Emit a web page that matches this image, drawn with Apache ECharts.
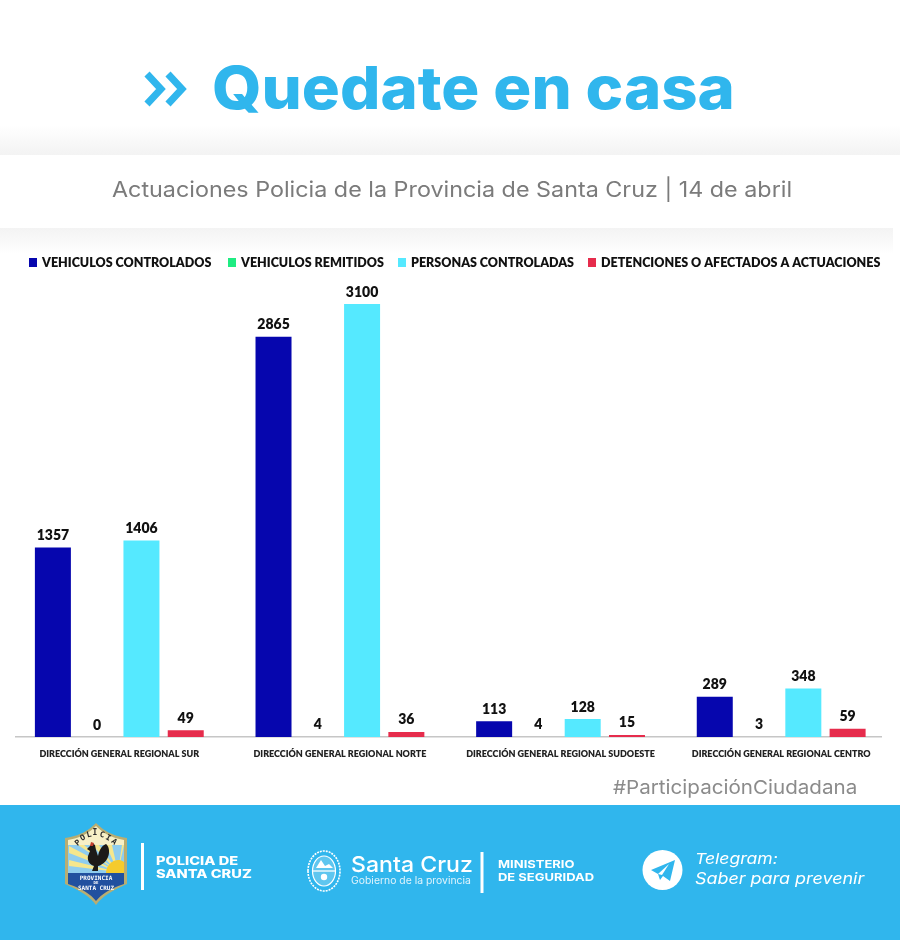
<!DOCTYPE html>
<html lang="es">
<head>
<meta charset="utf-8">
<title>Actuaciones Policia de la Provincia de Santa Cruz</title>
<style>
html,body{margin:0;padding:0;background:#fff}
#chart{width:900px;height:940px}
</style>
<script src="https://cdn.jsdelivr.net/npm/echarts@6/dist/echarts.min.js"></script>
</head>
<body>
<div id="chart"></div>
<script>
// Operational figures per regional directorate, 14 de abril
const regiones = ['DIRECCIÓN GENERAL REGIONAL SUR', 'DIRECCIÓN GENERAL REGIONAL NORTE', 'DIRECCIÓN GENERAL REGIONAL SUDOESTE', 'DIRECCIÓN GENERAL REGIONAL CENTRO'];
const vehiculosControlados = [1357, 2865, 113, 289];
const vehiculosRemitidos = [0, 4, 4, 3];
const personasControladas = [1406, 3100, 128, 348];
const detenciones = [49, 36, 15, 59];

const nombresSeries = ['VEHICULOS CONTROLADOS', 'VEHICULOS REMITIDOS', 'PERSONAS CONTROLADAS', 'DETENCIONES O AFECTADOS A ACTUACIONES'];
const coloresSeries = ['#0606ae', '#1fec82', '#55e9ff', '#e62c4c'];
const leyendaLeft = [24, 223, 393, 583];

const AZUL = '#30b6ed';
const GRID_TOP = 304, GRID_H = 433;
const BASE = GRID_TOP + GRID_H;

const el = document.getElementById('chart');
const chart = echarts.init(el, null, {renderer: 'canvas'});

// Text anchored at its left/centre, optionally stretched horizontally
function txt(text, x, y, font, fill, align, sx) {
  return {type: 'text', z: 20, x, y, scaleX: sx || 1,
    style: {text, x: 0, y: 0, font, fill, textAlign: align || 'left', textVerticalAlign: 'middle'}};
}
// Flattens an M/L/C/Z outline into polygon vertices
function trazo(d) {
  const t = d.match(/[MLCZ]|-?[\d.]+/g);
  const pts = [];
  let i = 0, cmd = '';
  while (i < t.length) {
    if (/[MLCZ]/.test(t[i])) { cmd = t[i++]; if (cmd === 'Z') continue; }
    if (cmd === 'C') {
      const [x0, y0] = pts[pts.length - 1];
      const [a, b, c, e, f, g] = t.slice(i, i + 6).map(Number);
      i += 6;
      for (let k = 1; k <= 10; k++) {
        const u = k / 10, v = 1 - u;
        pts.push([v*v*v*x0 + 3*v*v*u*a + 3*v*u*u*c + u*u*u*f, v*v*v*y0 + 3*v*v*u*b + 3*v*u*u*e + u*u*u*g]);
      }
    } else {
      pts.push([Number(t[i]), Number(t[i + 1])]);
      i += 2;
    }
  }
  return pts;
}
function poly(points, fill, z) {
  return {type: 'polygon', z: z || 12, shape: {points}, style: {fill}};
}
function pth(d, fill) {
  return poly(trazo(d), fill);
}
function vGrad(from, to) {
  return {type: 'linear', x: 0, y: 0, x2: 0, y2: 1, colorStops: [{offset: 0, color: from}, {offset: 1, color: to}]};
}

// Page bands behind the chart
const bandas = [
  {type: 'rect', z: -2, shape: {x: 0, y: 125, width: 900, height: 30}, style: {fill: vGrad('#ffffff', '#f3f3f3')}},
  {type: 'rect', z: -2, shape: {x: 0, y: 228, width: 893, height: 26}, style: {fill: vGrad('#f3f3f3', '#ffffff')}},
  {type: 'rect', z: 10, shape: {x: 0, y: 805, width: 900, height: 135}, style: {fill: AZUL}}
];

// Heading chevrons
const flechas = [146, 167].map(x => ({
  type: 'polyline', z: 20,
  shape: {points: [[x + 1, 74], [x + 15, 89], [x + 1, 104]]},
  style: {stroke: AZUL, lineWidth: 7, fill: 'none', lineJoin: 'miter'}
}));

const encabezado = [
  txt('Quedate en casa', 212, 91, '800 59px Inter', AZUL, 'left', 1.075),
  txt('Actuaciones Policia de la Provincia de Santa Cruz | 14 de abril', 112, 191, '400 21.5px Inter', '#7b7b7b', 'left', 1.085),
  txt('#ParticipaciónCiudadana', 613, 788, '400 19px Inter', '#8b8b8b', 'left', 1.084)
];

// Police crest
const rayos = [
  [[69, 846], [69, 853]], [[69, 860], [69, 866]], [[78, 845], [84, 845]],
  [[92, 845], [99, 845]], [[106, 845], [112, 845]], [[122, 845], [124, 845]]
];
const escudo = [
  pth('M96 823 C103 830 112 836 127 838 L127 884 C118 888 104 894 96 905 C88 894 74 888 65 884 L65 838 C80 836 89 830 96 823 Z', '#b8ad72'),
  pth('M96 826 C103 833 112 838 124 840 L124 873 L68 873 L68 840 C80 838 89 833 96 826 Z', '#f7f0c6'),
  poly([[68, 845], [124, 845], [124, 873], [68, 873]], '#8fcdee'),
  ...rayos.map(r => poly([[118, 872], r[0], r[1]], '#f6e78c')),
  pth('M106 873 C106 866 112 860 118 860 C121 860 123 861 124 862 L124 873 Z', '#f5cb2d'),
  // Rooster silhouette with comb
  pth('M87 849 L90 846 L92 843 L95 845 L96 850 L98 856 C99 851 101 846 106 844 C109 846 110 852 108 857 C106 862 102 865 98 866 L98 871 L92 871 L94 866 C90 865 87 861 88 856 L90 851 Z', '#1c1a18'),
  poly([[90, 846], [91, 842], [94, 843], [93, 846]], '#c2402c', 13),
  pth('M68 873 L124 873 L124 884 C115 887 103 892 96 901 C89 892 77 887 68 884 Z', '#21509f'),
  txt('PROVINCIA', 96, 878, 'bold 6px "DejaVu Sans Mono"', '#ffffff', 'center'),
  txt('DE', 96, 883, 'bold 4px "DejaVu Sans Mono"', '#ffffff', 'center'),
  txt('SANTA CRUZ', 96, 888, 'bold 6px "DejaVu Sans Mono"', '#ffffff', 'center'),
  ...[['P', 78, 843, -40], ['O', 83, 838, -28], ['L', 89, 835, -14], ['I', 95, 833, 0], ['C', 102, 835, 14], ['I', 108, 838, 28], ['A', 114, 842, 40]]
    .map(([c, x, y, r]) => ({type: 'text', z: 20, x, y, rotation: -r * Math.PI / 180,
      style: {text: c, font: 'bold 8px "DejaVu Sans Mono"', fill: '#2a2a2a', textAlign: 'center', textVerticalAlign: 'middle'}}))
];

// Provincial coat of arms
const armas = [
  {type: 'ellipse', z: 12, shape: {cx: 324, cy: 871, rx: 16, ry: 20}, style: {fill: 'none', stroke: '#ffffff', lineWidth: 1.6, lineDash: [2, 1]}},
  {type: 'ellipse', z: 12, shape: {cx: 324, cy: 871, rx: 11.5, ry: 15}, style: {fill: '#5fc6ef', stroke: '#ffffff', lineWidth: 1.2}},
  {type: 'line', z: 13, shape: {x1: 313, y1: 871, x2: 335, y2: 871}, style: {stroke: '#ffffff', lineWidth: 1.3}},
  Object.assign(pth('M316 868 L321 860 L325 866 L329 864 L333 868 Z', '#ffffff'), {z: 13}),
  {type: 'circle', z: 13, shape: {cx: 324, cy: 877, r: 3.2}, style: {fill: '#ffffff'}}
];

// Footer
const pie = [
  {type: 'rect', z: 12, shape: {x: 141, y: 843, width: 3, height: 47}, style: {fill: '#ffffff'}},
  {type: 'rect', z: 12, shape: {x: 480.5, y: 852, width: 3, height: 41}, style: {fill: '#ffffff'}},
  txt('POLICIA DE', 156, 862, '800 11.5px Inter', '#ffffff', 'left', 1.27),
  txt('SANTA CRUZ', 156, 875, '800 11.5px Inter', '#ffffff', 'left', 1.27),
  txt('Santa Cruz', 351, 865, '500 22px Inter', '#ffffff', 'left', 1.05),
  txt('Gobierno de la provincia', 351, 881, '400 10px Inter', '#dff3fc', 'left', 1.04),
  txt('MINISTERIO', 498, 865, '700 11px Inter', '#ffffff', 'left', 1.18),
  txt('DE SEGURIDAD', 498, 878, '700 11px Inter', '#ffffff', 'left', 1.18),
  {type: 'circle', z: 12, shape: {cx: 662.5, cy: 870, r: 20}, style: {fill: '#ffffff'}},
  poly([[651, 870], [675, 860], [670, 881], [663, 876], [660, 880], [658, 874]], AZUL, 13),
  poly([[658, 874], [669, 864], [662, 875]], '#ffffff', 14),
  txt('Telegram:', 695, 859, 'italic 400 15px Inter', '#ffffff', 'left', 1.17),
  txt('Saber para prevenir', 695, 879, 'italic 400 16px Inter', '#ffffff', 'left', 1.12)
];

// Baseline drawn across the plot, shorter than the category band
const linea = [{type: 'line', z: 8, shape: {x1: 15, y1: BASE - 0.25, x2: 882, y2: BASE - 0.25}, style: {stroke: '#c6c6c6', lineWidth: 1.5}}];

// The near-zero series sits under the baseline; the others sit over it
function serie(i, datos) {
  return {
    name: nombresSeries[i], type: 'bar', data: datos, barWidth: 36, barGap: '23%',
    z: i === 1 ? 2 : 9,
    itemStyle: {color: coloresSeries[i]},
    label: {show: true, position: 'top', distance: 5, color: '#111111', fontFamily: 'Lato', fontWeight: 800, fontSize: 14}
  };
}

chart.setOption({
  animation: false,
  backgroundColor: '#ffffff',
  textStyle: {fontFamily: 'Lato'},
  legend: nombresSeries.map((nombre, i) => ({
    left: leyendaLeft[i], top: 251, itemWidth: 8, itemHeight: 9, icon: 'rect',
    textStyle: {fontFamily: 'Lato', fontWeight: 800, fontSize: 12.5, color: '#111111'},
    data: [nombre]
  })),
  grid: {left: 9, right: 8.5, top: GRID_TOP, height: GRID_H},
  xAxis: {
    type: 'category', data: regiones,
    axisLine: {show: false}, axisTick: {show: false},
    axisLabel: {interval: 0, margin: 13, color: '#222222', fontFamily: 'Lato', fontWeight: 800, fontSize: 9}
  },
  yAxis: {type: 'value', min: 0, max: 3100, show: false, splitLine: {show: false}},
  series: [
    serie(0, vehiculosControlados),
    serie(1, vehiculosRemitidos),
    serie(2, personasControladas),
    serie(3, detenciones)
  ],
  graphic: {elements: [...bandas, ...flechas, ...encabezado, ...linea, ...escudo, ...armas, ...pie]}
});
</script>
</body>
</html>
